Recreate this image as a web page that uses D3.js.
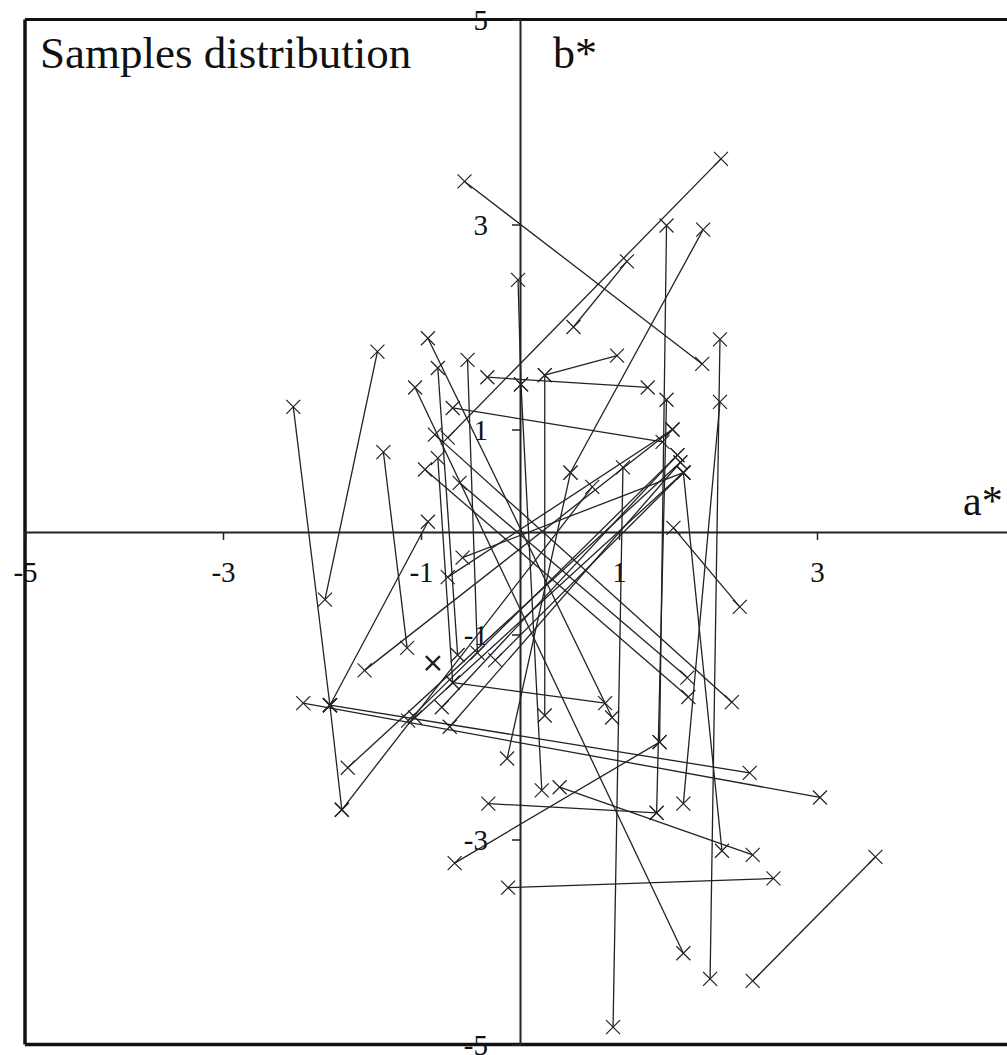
<!DOCTYPE html>
<html>
<head>
<meta charset="utf-8">
<script src="https://cdn.jsdelivr.net/npm/d3@7"></script>
<style>
  body { margin: 0; background: #fff; }
  svg text { font-family: "Liberation Serif", "Times New Roman", serif; fill: #111; }
  .seg { stroke: #222; stroke-width: 1.3px; fill: none; }
  .mark { stroke: #222; }
</style>
</head>
<body>
<script>
// each sample: a*, b* at start (a0,b0) and at end (a1,b1)
const a0 = [-0.56, 2.03, 1.08, 1.85, 0.51, 1.48, -0.02, 0.01, -0.33, 0.25, 0.25, -0.68,
            -1.44, -2.29, -1.38, -0.53, -0.83, -1.06, -0.86, -0.93, 2.02, 2.02, 1.48, 1.65,
            -0.96, -0.61, 1.55, 1.04, -0.83, -0.68, -0.93, -1.92, -1.92, -2.19, -1.80,
            -1.57, -1.74, -1.13, -1.06, -0.79, -0.71, -0.73, -0.58, -0.25,
            -0.32, -0.66, 0.40, -0.12, 2.35];
const b0 = [3.42, 3.64, 2.64, 2.95, 0.58, 2.99, 2.46, 1.44, 1.51, 1.53, 1.53, 1.21,
            1.76, 1.22, 0.78, 1.68, 1.60, 1.41, 0.95, 1.89, 1.88, 1.27, 1.29, 0.58,
            0.61, 0.48, 0.04, 0.63, 0.72, -1.47, 0.10, -1.69, -1.69, -1.67, -2.71,
            -1.35, -2.30, -1.84, -1.81, -1.71, -1.90, -0.44, -0.25, -1.25,
            -2.65, -3.23, -2.49, -3.47, -4.38];
const a1 = [1.84, -0.73, 0.54, 0.51, -0.13, 1.41, 0.01, 0.22, 1.29, 0.98, 0.25, 1.44,
            -1.97, -1.92, -1.14, -0.43, -0.63, 1.65, 2.14, 0.93, 1.92, 1.65, 1.38, 2.04,
            1.70, 1.69, 2.22, 0.94, -0.68, 0.86, -1.92, -1.80, 2.32, 3.03, 0.73,
            1.54, 1.62, 1.59, 1.65, 1.59, 1.62, 1.54, 1.65, 1.65,
            1.38, 1.41, 2.35, 2.56, 3.59];
const b1 = [1.64, 0.92, 2.00, 0.58, -2.21, -2.05, 1.44, -2.52, 1.41, 1.72, -1.79, 0.88,
            -0.66, -1.69, -1.13, -1.18, -1.20, -4.11, -1.66, -1.81, -4.36, -2.65, -2.74, -3.11,
            -1.61, -1.42, -0.73, -4.83, -1.47, -1.67, -1.69, -2.71, -2.35, -2.59, 0.44,
            1.00, 0.68, 0.75, 0.58, 0.75, 0.68, 1.00, 0.58, 0.58,
            -2.74, -2.05, -3.15, -3.38, -3.17];
// lone sample with no pair
const loneA = [-0.88];
const loneB = [-1.28];

const xTicks = [-5, -3, -1, 1, 3, 5];
const yTicks = [-5, -3, -1, 1, 3, 5];

const W = 1007, H = 1055;
const svg = d3.select('body').append('svg')
    .attr('width', W).attr('height', H);

const x = d3.scaleLinear().domain([-5, 5]).range([25, 1015]);
const y = d3.scaleLinear().domain([-5, 5]).range([1044.5, 19.5]);

// frame
svg.append('line').attr('x1', x(-5)).attr('x2', x(-5)).attr('y1', y(5)).attr('y2', y(-5))
    .attr('stroke', '#111').attr('stroke-width', 3.5);
svg.append('line').attr('x1', x(-5)).attr('x2', x(5)).attr('y1', y(5)).attr('y2', y(5))
    .attr('stroke', '#111').attr('stroke-width', 3);
svg.append('line').attr('x1', x(-5)).attr('x2', x(5)).attr('y1', y(-5)).attr('y2', y(-5))
    .attr('stroke', '#111').attr('stroke-width', 3.5);

// axes through origin
const xAxis = d3.axisBottom(x).tickValues(xTicks).tickSize(8).tickPadding(20)
    .tickFormat(d => String(d));
const yAxis = d3.axisLeft(y).tickValues(yTicks).tickSize(8).tickPadding(24)
    .tickFormat(d => String(d));

const gx = svg.append('g').attr('transform', `translate(0,${y(0)})`).call(xAxis);
const gy = svg.append('g').attr('transform', `translate(${x(0)},0)`).call(yAxis);
[gx, gy].forEach(g => {
  g.select('.domain').attr('stroke', '#222').attr('stroke-width', 2);
  g.selectAll('.tick line').attr('stroke', '#222').attr('stroke-width', 1.5);
  g.selectAll('.tick text').style('font-family', '"Liberation Serif", serif')
    .style('font-size', '29px').attr('fill', '#111');
});
gx.selectAll('.tick text').attr('dy', '0.75em');
gy.selectAll('.tick text').attr('dy', '0.34em');

// segments
const idx = d3.range(a0.length);
svg.append('g').selectAll('line').data(idx).join('line')
    .attr('class', 'seg')
    .attr('x1', i => x(a0[i])).attr('y1', i => y(b0[i]))
    .attr('x2', i => x(a1[i])).attr('y2', i => y(b1[i]));

// x markers
const pts = idx.flatMap(i => [[a0[i], b0[i]], [a1[i], b1[i]]]);
const r = 7;
const cross = (g, list, w) => {
  g.selectAll('path').data(list).join('path')
    .attr('class', 'mark')
    .attr('stroke-width', w)
    .attr('d', d => {
      const px = x(d[0]), py = y(d[1]);
      return `M${px - r},${py - r}L${px + r},${py + r}M${px - r},${py + r}L${px + r},${py - r}`;
    });
};
cross(svg.append('g'), pts, 1.2);
cross(svg.append('g'), loneA.map((v, i) => [v, loneB[i]]), 2.4);

// labels
svg.append('text').attr('x', 40).attr('y', 68).style('font-size', '45px')
    .text('Samples distribution');
svg.append('text').attr('x', 553).attr('y', 68).style('font-size', '44px')
    .text('b*');
svg.append('text').attr('x', 963).attr('y', 515).style('font-size', '42px')
    .text('a*');
</script>
</body>
</html>
